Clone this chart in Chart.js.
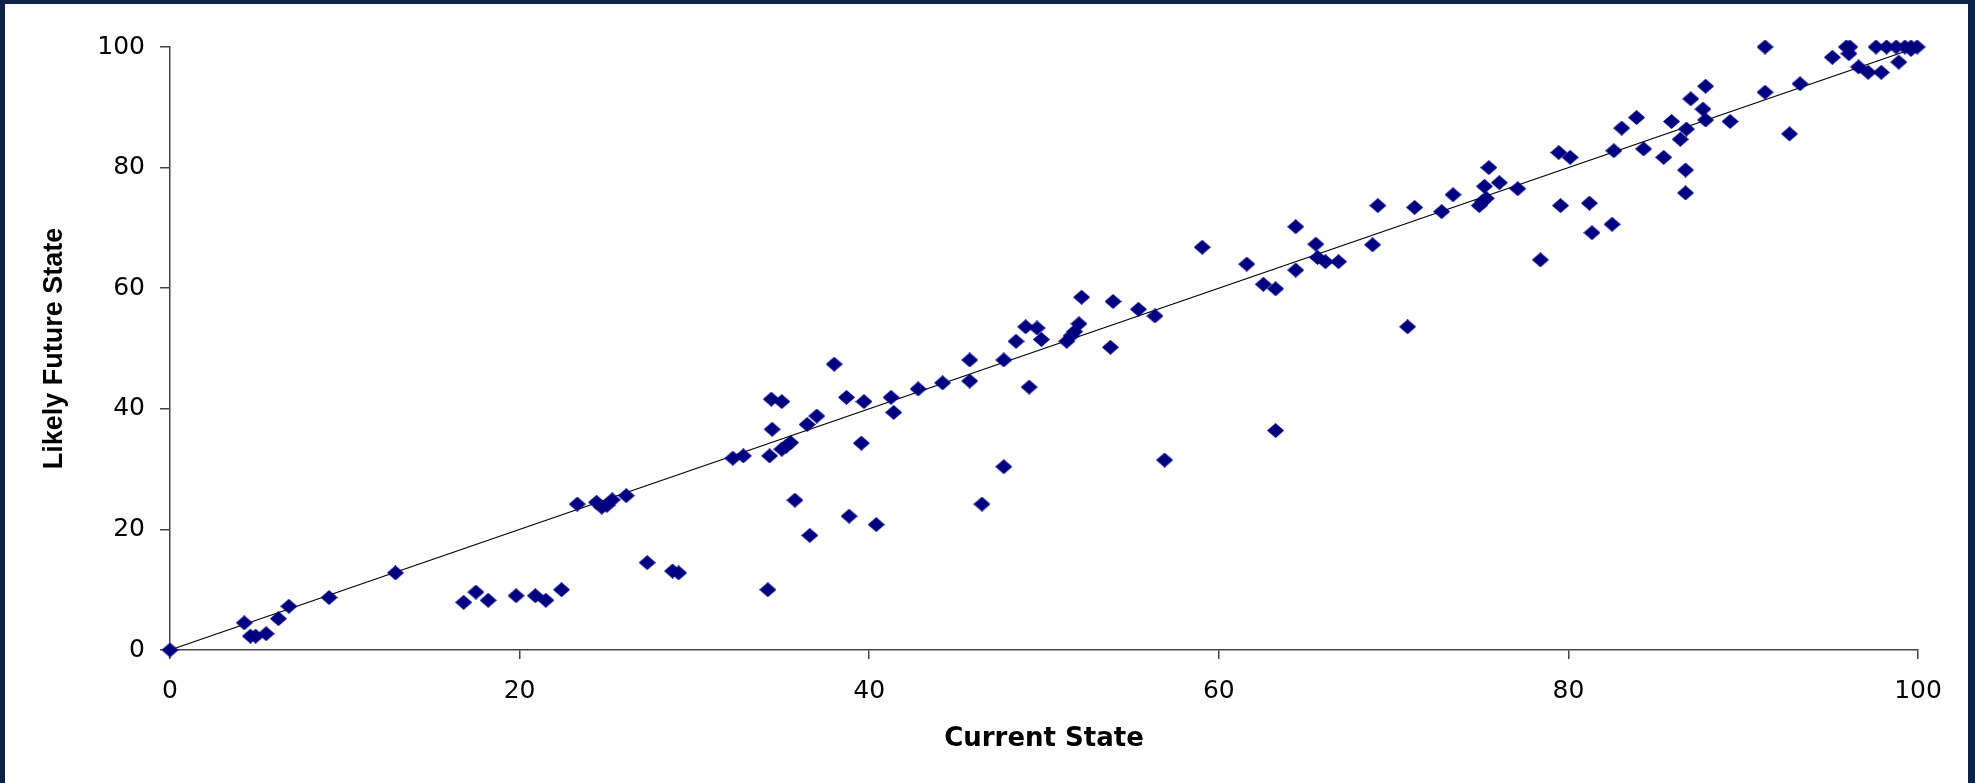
<!DOCTYPE html>
<html lang="en">

<head>
    <meta charset="UTF-8">
    <title>Current vs Likely Future State</title>
    <script src="https://cdn.jsdelivr.net/npm/chart.js"></script>
    <style>
        html, body {
            margin: 0;
            padding: 0;
            background: #0b2345;
            width: 1975px;
            height: 783px;
            overflow: hidden;
        }

        .frame {
            position: absolute;
            left: 5px;
            top: 4px;
            width: 1963px;
            height: 779px;
            background: #ffffff;
        }
    </style>
</head>

<body>
    <div class="frame">
        <canvas id="chartEstado" width="1963" height="779"></canvas>
    </div>

    <script>
        // values: current state (x) vs likely future state (y)
        const currentState = [
            0, 4.25, 4.6, 4.9, 5.5, 6.2, 6.8, 9.1, 12.9, 16.8,
            17.5, 18.2, 19.8, 20.9, 21.5, 22.4, 23.3, 24.4, 24.7, 25.0,
            25.3, 26.1, 27.3, 28.75, 29.1, 32.2, 32.8, 34.2, 34.3, 34.45,
            34.4, 35.0, 35.0, 35.25, 35.5, 35.75, 36.45, 36.6, 37.0, 38.0,
            38.7, 38.85, 39.55, 39.7, 40.4, 41.25, 41.4, 42.8, 44.2, 45.75,
            45.75, 46.45, 47.7, 47.7, 48.4, 48.95, 49.15, 49.6, 49.85, 51.3,
            51.55, 51.75, 52.0, 52.15, 53.8, 53.95, 55.4, 56.35, 56.9, 59.05,
            61.6, 62.55, 63.25, 63.25, 64.4, 64.4, 65.55, 65.65, 66.1, 66.85,
            68.8, 69.1, 70.8, 71.2, 72.75, 73.4, 74.9, 75.1, 75.3, 75.2,
            75.45, 76.05, 77.1, 78.4, 79.45, 79.55, 80.1, 81.2, 81.35, 82.5,
            82.6, 83.05, 83.9, 84.3, 85.45, 85.9, 86.4, 86.75, 86.7, 86.7,
            87.0, 87.7, 87.85, 87.85, 89.25, 91.25, 91.25, 92.65, 93.25, 95.1,
            95.9, 96.1, 96.05, 96.6, 97.15, 97.9, 97.6, 98.2, 98.75, 99.25,
            99.6, 99.95, 98.9, 99.6
        ];
        const likelyFutureState = [
            0, 4.5, 2.3, 2.3, 2.7, 5.2, 7.25, 8.7, 12.8, 7.9,
            9.6, 8.25, 9.0, 9.0, 8.25, 10.0, 24.2, 24.5, 23.7, 24.0,
            24.9, 25.6, 14.5, 13.1, 12.8, 31.8, 32.2, 10.0, 32.2, 36.6,
            41.6, 41.2, 33.3, 33.8, 34.4, 24.85, 37.4, 19.0, 38.8, 47.4,
            41.9, 22.2, 34.3, 41.2, 20.8, 41.9, 39.4, 43.3, 44.3, 44.6,
            48.1, 24.2, 48.1, 30.4, 51.2, 53.6, 43.6, 53.4, 51.5, 51.2,
            52.1, 52.8, 54.1, 58.5, 50.2, 57.8, 56.5, 55.4, 31.5, 66.8,
            64.0, 60.65, 59.9, 36.4, 70.2, 63.0, 67.3, 65.1, 64.4, 64.4,
            67.2, 73.7, 53.6, 73.4, 72.7, 75.5, 73.7, 74.4, 74.9, 76.9,
            80.0, 77.5, 76.5, 64.7, 82.5, 73.7, 81.7, 74.1, 69.2, 70.6,
            82.8, 86.55, 88.3, 83.1, 81.7, 87.65, 84.7, 86.4, 79.6, 75.8,
            91.4, 89.7, 93.5, 87.9, 87.65, 100, 92.5, 85.6, 93.9, 98.3,
            100, 100, 98.9, 96.7, 95.8, 95.8, 100, 100, 100, 100,
            100, 100, 97.5, 99.6
        ];

        // trend line end points
        const trendX = [0, 100];
        const trendY = [0, 100];

        const axisTicks = [0, 20, 40, 60, 80, 100];

        const pontos = currentState.map((x, i) => ({ x: x, y: likelyFutureState[i] }));
        const tendencia = trendX.map((x, i) => ({ x: x, y: trendY[i] }));

        // diamond marker, a bit wider than tall like the original
        function criarLosango(w, h, cor) {
            const c = document.createElement('canvas');
            c.width = w;
            c.height = h;
            const g = c.getContext('2d');
            g.fillStyle = cor;
            g.beginPath();
            g.moveTo(w / 2, 0);
            g.lineTo(w, h / 2);
            g.lineTo(w / 2, h);
            g.lineTo(0, h / 2);
            g.closePath();
            g.fill();
            return c;
        }
        const losango = criarLosango(17, 15, '#000080');

        const corEixo = '#444444';
        const fonteTicks = { family: 'DejaVu Sans', size: 25 };

        const ctx = document.getElementById('chartEstado').getContext('2d');
        new Chart(ctx, {
            type: 'scatter',
            data: {
                datasets: [{
                    label: 'Estados',
                    data: pontos,
                    pointStyle: losango,
                    pointRadius: 8,
                    pointHoverRadius: 8,
                    backgroundColor: '#000080',
                    borderColor: '#000080',
                    clip: false,
                    order: 1
                }, {
                    type: 'line',
                    label: 'Tendência',
                    data: tendencia,
                    borderColor: '#000000',
                    borderWidth: 1.3,
                    pointRadius: 0,
                    fill: false,
                    clip: false,
                    order: 2
                }]
            },
            options: {
                responsive: false,
                animation: false,
                devicePixelRatio: 1,
                layout: {
                    padding: { left: 0, top: 43, right: 50, bottom: 0 }
                },
                plugins: {
                    legend: { display: false },
                    tooltip: { enabled: false }
                },
                scales: {
                    x: {
                        type: 'linear',
                        min: axisTicks[0],
                        max: axisTicks[axisTicks.length - 1],
                        afterBuildTicks: s => { s.ticks = axisTicks.map(v => ({ value: v })); },
                        afterFit: s => { s.height = 133; },
                        border: { display: true, color: corEixo, width: 1.5 },
                        grid: { drawOnChartArea: false, drawTicks: true, tickLength: 9, color: corEixo, lineWidth: 1.5 },
                        ticks: { color: '#000', font: fonteTicks, padding: 17, maxRotation: 0 },
                        title: {
                            display: true,
                            text: 'Current State',
                            color: '#000',
                            font: { family: 'DejaVu Sans', size: 26, weight: 'bold' },
                            padding: { top: 0, bottom: 28 }
                        }
                    },
                    y: {
                        type: 'linear',
                        min: axisTicks[0],
                        max: axisTicks[axisTicks.length - 1],
                        afterBuildTicks: s => { s.ticks = axisTicks.map(v => ({ value: v })); },
                        afterFit: s => { s.width = 165; },
                        border: { display: true, color: corEixo, width: 1.5 },
                        grid: { drawOnChartArea: false, drawTicks: true, tickLength: 10, color: corEixo, lineWidth: 1.5 },
                        ticks: { color: '#000', font: fonteTicks, padding: 15 },
                        title: {
                            display: true,
                            text: 'Likely Future State',
                            color: '#000',
                            font: { family: 'Liberation Sans', size: 27, weight: 'bold' },
                            padding: { top: 33, bottom: 0 }
                        }
                    }
                }
            }
        });
    </script>

</body>

</html>
